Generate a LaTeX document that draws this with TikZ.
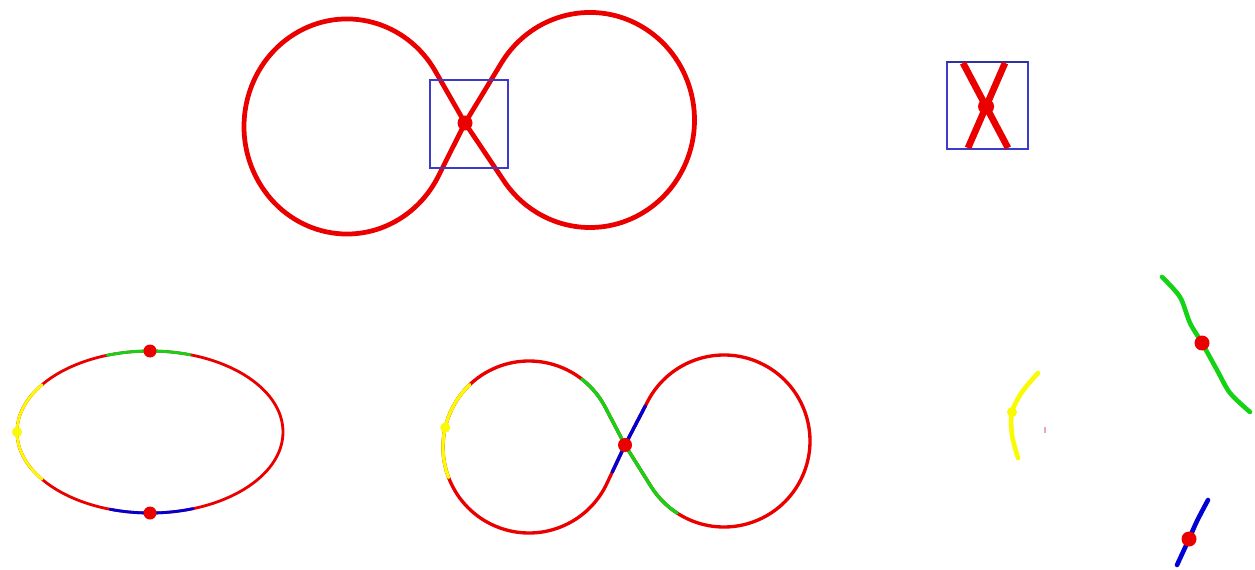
\documentclass[tikz,border=0pt]{standalone}
\usetikzlibrary{calc}
\definecolor{cred}{RGB}{235,0,0}
\definecolor{cgreen}{RGB}{20,210,20}
\definecolor{cblue}{RGB}{0,0,210}
\definecolor{cyellow}{RGB}{250,250,0}
\definecolor{rectblue}{RGB}{60,60,200}
\definecolor{cpink}{RGB}{230,170,190}
\begin{document}
\begin{tikzpicture}[x=0.02cm,y=0.02cm,
  bigline/.style={draw=cred,line width=2.7pt,line join=round,line cap=round},
  midline/.style={line width=1.9pt,line join=round,line cap=round},
  thinline/.style={line width=1.6pt,line join=round,line cap=round},
  frag/.style={line width=2.6pt,line join=round,line cap=round},
  rbox/.style={draw=rectblue,line width=0.6pt},
  reddot/.style={fill=cred},
  ydot/.style={fill=cyellow}]
\useasboundingbox[fill=white] (0,0) rectangle (1255,569);

% ---------- top figure eight ----------
\coordinate (X) at (465,446);
\begin{scope}[shift={(347,442.5)},yscale=1.044]
  \coordinate (XL) at (118,3.35);
  \coordinate (T1) at (30.8:103);
  \draw[bigline] (XL) -- (T1) arc[start angle=30.8,end angle=332.4,radius=103] -- (XL);
\end{scope}
\begin{scope}[shift={(590,449)},yscale=1.029]
  \coordinate (XR) at (-125,-2.9);
  \coordinate (T2) at (148:104.5);
  \draw[bigline] (XR) -- (T2) arc[start angle=148,end angle=-145.4,radius=104.5] -- (XR);
\end{scope}
\draw[rbox] (430,401) rectangle (508,489);
\fill[reddot] (X) circle[radius=7.5];

% ---------- top right zoomed crossing ----------
\coordinate (R1) at (947,420);
\coordinate (R2) at (1028,507);
\draw[rbox] (R1) rectangle (R2);
\draw[draw=rectblue!80!black,line width=1.2pt] (947,507) -- (1028,507);
\coordinate (P1) at (963,506);
\coordinate (P2) at (1008,421);
\coordinate (P3) at (1005,506);
\coordinate (P4) at (968,421);
\draw[draw=cred,line width=3.8pt] (P1) -- (P2);
\draw[draw=cred,line width=3.8pt] (P3) -- (P4);
\fill[reddot] (intersection of P1--P2 and P3--P4) circle[radius=8];

% ---------- bottom left ellipse ----------
\coordinate (E) at (150,137);
\draw[draw=cred,thinline] (E) ellipse[x radius=133,y radius=81];
\draw[draw=cgreen,thinline] ($(E)+(72.5:133 and 81)$) arc[start angle=72.5,end angle=108.8,x radius=133,y radius=81];
\draw[draw=cblue,thinline] ($(E)+(252.5:133 and 81)$) arc[start angle=252.5,end angle=288.9,x radius=133,y radius=81];
\draw[draw=cyellow,thinline] ($(E)+(144.3:133 and 81)$) arc[start angle=144.3,end angle=215.7,x radius=133,y radius=81];
\fill[reddot] ($(E)+(90:133 and 81)$) circle[radius=6.5];
\fill[reddot] ($(E)+(270:133 and 81)$) circle[radius=6.5];
\fill[ydot] ($(E)+(180:133 and 81)$) circle[radius=5];

% ---------- bottom middle figure eight ----------
\coordinate (C3) at (529,122);
\coordinate (C4) at (724,128);
\coordinate (X2) at (625,124);
\coordinate (T3) at ($(C3)+(27.6:86)$);
\coordinate (B3) at ($(C3)+(-25.2:86)$);
\coordinate (T4) at ($(C4)+(152.6:86)$);
\coordinate (B4) at ($(C4)+(212:86)$);
\draw[draw=cred,midline] (X2) -- (T3) arc[start angle=27.6,end angle=334.8,radius=86] -- (X2)
  -- (T4) arc[start angle=152.6,end angle=-148,radius=86] -- (B4) -- (X2);
\draw[draw=cgreen,midline] ($(C3)+(52:86)$) arc[start angle=52,end angle=27.6,radius=86]
  -- (X2) -- (B4) arc[start angle=212,end angle=237,radius=86];
\draw[draw=cblue,midline] ($(B3)!0.3!(X2)$) -- (X2) -- ($(X2)!0.9!(T4)$);
\draw[draw=cyellow,midline] ($(C3)+(133.5:86)$) arc[start angle=133.5,end angle=200.8,radius=86];
\fill[ydot] ($(C3)+(167:86)$) circle[radius=5];
\fill[reddot] (X2) circle[radius=7];

% ---------- bottom right fragments ----------
\draw[draw=cyellow,frag] plot[smooth] coordinates {(1038,196) (1022,177) (1012,157) (1012,134) (1018,111)};
\fill[ydot] (1012,157) circle[radius=5];
\draw[draw=cpink,line width=0.8pt] (1045,142) -- (1045,136);
\draw[draw=cgreen,frag] plot[smooth] coordinates {(1162,292) (1180,272) (1190,246) (1202,226) (1217,199) (1230,176) (1250,157)};
\fill[reddot] (1202,226) circle[radius=7.5];
\draw[draw=cblue,frag] plot[smooth] coordinates {(1208,69) (1197,48) (1189,30) (1177,4)};
\fill[reddot] (1189,30) circle[radius=7.5];
\end{tikzpicture}
\end{document}
